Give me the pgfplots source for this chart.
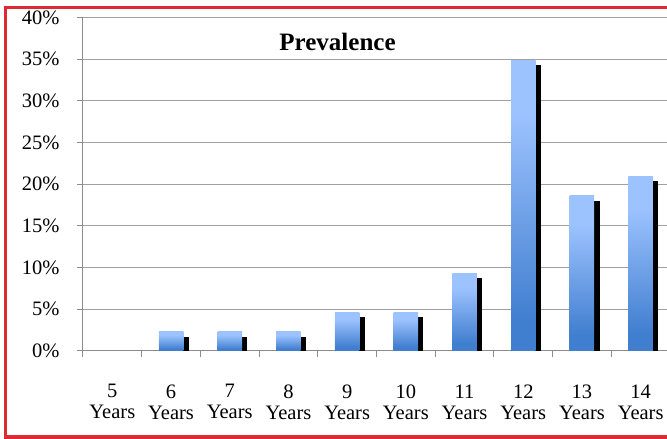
\documentclass[border=0pt]{standalone}
\usepackage{fontspec}
\setmainfont{Liberation Serif}
\usepackage{pgfplots}
\pgfplotsset{compat=1.18}

\definecolor{barlight}{RGB}{157,195,255}
\definecolor{bardark}{RGB}{64,126,207}
\definecolor{gridgray}{RGB}{160,160,160}
\definecolor{axisgray}{RGB}{140,140,140}
\definecolor{framered}{RGB}{222,42,50}

% light at the top of each bar, fading to a deeper blue near its foot
\pgfdeclareverticalshading{barfade}{100bp}{%
  color(0bp)=(bardark); color(30bp)=(bardark);
  color(66bp)=(barlight); color(100bp)=(barlight)}

\newcommand{\ticktext}{\fontsize{20.5}{21}\selectfont}

% one bar per plot, so that every bar carries its own gradient,
% with a black drop shadow offset to the lower right
\newcommand{\agebar}[2]{%
  \addplot[ybar, bar width=24.5pt, bar shift=0pt, draw=none, fill=none,
    preaction={fill=black, transform canvas={xshift=5.3pt, yshift=-5pt}},
    postaction={shading=barfade}]
    coordinates {(#1,#2)};}

\begin{document}
\begin{tikzpicture}[x=1pt,y=1pt]
\useasboundingbox (0,0) rectangle (667,439);

\begin{axis}[
  at={(83pt,88pt)}, anchor=south west,
  scale only axis, width=587pt, height=333.6pt,
  xmin=-0.5, xmax=9.5, ymin=0, ymax=40,
  axis x line*=bottom, axis y line*=left,
  axis line style={draw=axisgray, line width=1pt},
  ytick={0,5,...,40},
  yticklabels={0\%,5\%,10\%,15\%,20\%,25\%,30\%,35\%,40\%},
  ymajorgrids, grid style={draw=gridgray, line width=1pt},
  tick align=outside,
  major tick length=6pt, minor tick length=6pt,
  ytick style={draw=axisgray, line width=1pt},
  xtick={0,...,9},
  xticklabels={{5\\Years},{6\\Years},{7\\Years},{8\\Years},{9\\Years},
               {10\\Years},{11\\Years},{12\\Years},{13\\Years},{14\\Years}},
  major x tick style={draw=none},
  minor xtick={-0.5,0.5,...,9.5},
  minor x tick style={draw=axisgray, line width=1pt},
  xticklabel style={font=\ticktext, align=center, yshift=-24pt},
  yticklabel style={font=\ticktext, xshift=-14pt},
]
% share of each age group (5 Years: 0%)
\agebar{1}{2.33}
\agebar{2}{2.33}
\agebar{3}{2.33}
\agebar{4}{4.65}
\agebar{5}{4.65}
\agebar{6}{9.30}
\agebar{7}{34.88}
\agebar{8}{18.60}
\agebar{9}{20.93}
\end{axis}

\node[font=\bfseries\fontsize{25}{30}\selectfont] at (337.5,397.5) {Prevalence};

\draw[framered, line width=3.6pt, line join=miter]
  (690,431.5) -- (5.3,431.5) -- (5.3,2.2) -- (690,2.2);
\end{tikzpicture}
\end{document}
